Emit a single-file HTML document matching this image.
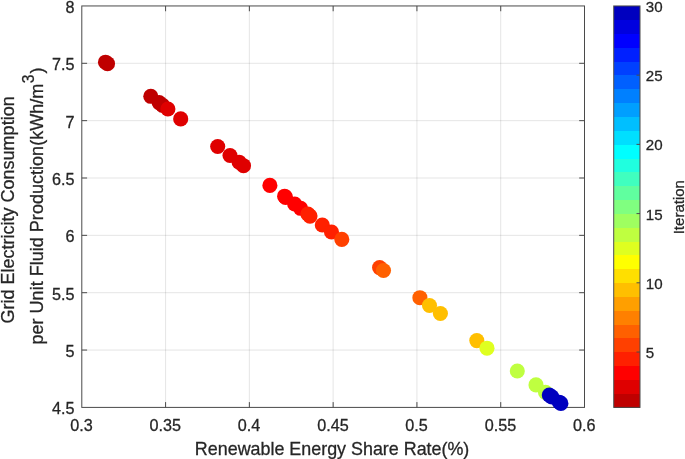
<!DOCTYPE html>
<html lang="en"><head><meta charset="utf-8"><title>Pareto front</title>
<style>html,body{margin:0;padding:0;background:#fff}svg{display:block}text{font-family:"Liberation Sans",Arial,Helvetica,sans-serif;fill:#262626;stroke:#262626;stroke-width:0.28px}</style></head><body>
<svg width="685" height="459" viewBox="0 0 685 459">
<rect width="685" height="459" fill="#fff"/>
<g stroke="#262626" stroke-opacity="0.12" stroke-width="1">
<line x1="165.58" y1="5.95" x2="165.58" y2="407.40"/>
<line x1="249.37" y1="5.95" x2="249.37" y2="407.40"/>
<line x1="333.15" y1="5.95" x2="333.15" y2="407.40"/>
<line x1="416.93" y1="5.95" x2="416.93" y2="407.40"/>
<line x1="500.72" y1="5.95" x2="500.72" y2="407.40"/>
<line x1="81.80" y1="350.05" x2="584.50" y2="350.05"/>
<line x1="81.80" y1="292.70" x2="584.50" y2="292.70"/>
<line x1="81.80" y1="235.35" x2="584.50" y2="235.35"/>
<line x1="81.80" y1="178.00" x2="584.50" y2="178.00"/>
<line x1="81.80" y1="120.65" x2="584.50" y2="120.65"/>
<line x1="81.80" y1="63.30" x2="584.50" y2="63.30"/>
</g>
<g stroke="#4a4a4a" stroke-width="1" fill="none">
<rect x="81.80" y="5.95" width="502.70" height="401.45"/>
<line x1="165.58" y1="407.40" x2="165.58" y2="402.10"/>
<line x1="165.58" y1="5.95" x2="165.58" y2="11.25"/>
<line x1="249.37" y1="407.40" x2="249.37" y2="402.10"/>
<line x1="249.37" y1="5.95" x2="249.37" y2="11.25"/>
<line x1="333.15" y1="407.40" x2="333.15" y2="402.10"/>
<line x1="333.15" y1="5.95" x2="333.15" y2="11.25"/>
<line x1="416.93" y1="407.40" x2="416.93" y2="402.10"/>
<line x1="416.93" y1="5.95" x2="416.93" y2="11.25"/>
<line x1="500.72" y1="407.40" x2="500.72" y2="402.10"/>
<line x1="500.72" y1="5.95" x2="500.72" y2="11.25"/>
<line x1="81.80" y1="350.05" x2="87.10" y2="350.05"/>
<line x1="584.50" y1="350.05" x2="579.20" y2="350.05"/>
<line x1="81.80" y1="292.70" x2="87.10" y2="292.70"/>
<line x1="584.50" y1="292.70" x2="579.20" y2="292.70"/>
<line x1="81.80" y1="235.35" x2="87.10" y2="235.35"/>
<line x1="584.50" y1="235.35" x2="579.20" y2="235.35"/>
<line x1="81.80" y1="178.00" x2="87.10" y2="178.00"/>
<line x1="584.50" y1="178.00" x2="579.20" y2="178.00"/>
<line x1="81.80" y1="120.65" x2="87.10" y2="120.65"/>
<line x1="584.50" y1="120.65" x2="579.20" y2="120.65"/>
<line x1="81.80" y1="63.30" x2="87.10" y2="63.30"/>
<line x1="584.50" y1="63.30" x2="579.20" y2="63.30"/>
</g>
<g>
<circle cx="105.5" cy="62.2" r="7.55" fill="#bf0000"/>
<circle cx="107.5" cy="63.7" r="7.55" fill="#bf0000"/>
<circle cx="150.8" cy="96.3" r="7.55" fill="#bf0000"/>
<circle cx="159.1" cy="102.6" r="7.55" fill="#bf0000"/>
<circle cx="162.6" cy="105.3" r="7.55" fill="#bf0000"/>
<circle cx="167.9" cy="109.0" r="7.55" fill="#df0000"/>
<circle cx="180.7" cy="118.9" r="7.55" fill="#df0000"/>
<circle cx="217.7" cy="146.5" r="7.55" fill="#df0000"/>
<circle cx="230.0" cy="155.5" r="7.55" fill="#df0000"/>
<circle cx="239.1" cy="162.2" r="7.55" fill="#df0000"/>
<circle cx="243.5" cy="165.7" r="7.55" fill="#df0000"/>
<circle cx="269.9" cy="185.4" r="7.55" fill="#ff0000"/>
<circle cx="284.6" cy="196.2" r="7.55" fill="#ff0000"/>
<circle cx="285.6" cy="197.4" r="7.55" fill="#ff0000"/>
<circle cx="294.7" cy="204.0" r="7.55" fill="#ff0000"/>
<circle cx="300.6" cy="208.3" r="7.55" fill="#ff0000"/>
<circle cx="307.9" cy="214.0" r="7.55" fill="#ff2000"/>
<circle cx="310.0" cy="216.1" r="7.55" fill="#ff2000"/>
<circle cx="322.3" cy="225.0" r="7.55" fill="#ff2000"/>
<circle cx="331.5" cy="232.0" r="7.55" fill="#ff2000"/>
<circle cx="341.8" cy="239.4" r="7.55" fill="#ff4000"/>
<circle cx="379.6" cy="267.6" r="7.55" fill="#ff4000"/>
<circle cx="383.5" cy="270.5" r="7.55" fill="#ff6000"/>
<circle cx="419.9" cy="297.7" r="7.55" fill="#ff6000"/>
<circle cx="429.5" cy="305.5" r="7.55" fill="#ffbf00"/>
<circle cx="440.4" cy="313.5" r="7.55" fill="#ffbf00"/>
<circle cx="476.8" cy="340.6" r="7.55" fill="#ffbf00"/>
<circle cx="487.0" cy="348.2" r="7.55" fill="#dfff20"/>
<circle cx="517.3" cy="371.0" r="7.55" fill="#bfff40"/>
<circle cx="536.0" cy="384.9" r="7.55" fill="#bfff40"/>
<circle cx="545.5" cy="392.4" r="7.55" fill="#bfff40"/>
<circle cx="549.3" cy="395.1" r="7.55" fill="#0000bf"/>
<circle cx="551.8" cy="396.9" r="7.55" fill="#0000bf"/>
<circle cx="559.3" cy="402.2" r="7.55" fill="#0000bf"/>
<circle cx="560.9" cy="403.4" r="7.55" fill="#0000bf"/>
</g>
<g font-size="16.2" text-anchor="middle">
<text transform="translate(81.5,430.5) scale(1.0000,1)">0.3</text>
<text transform="translate(165.3,430.5) scale(1.0000,1)">0.35</text>
<text transform="translate(249.1,430.5) scale(1.0000,1)">0.4</text>
<text transform="translate(332.9,430.5) scale(1.0000,1)">0.45</text>
<text transform="translate(416.6,430.5) scale(1.0000,1)">0.5</text>
<text transform="translate(500.4,430.5) scale(1.0000,1)">0.55</text>
<text transform="translate(584.2,430.5) scale(1.0000,1)">0.6</text>
</g>
<g font-size="16.2" text-anchor="end">
<text transform="translate(74.6,414.4) scale(1.0000,1)">4.5</text>
<text transform="translate(74.6,357.0) scale(1.0000,1)">5</text>
<text transform="translate(74.6,299.7) scale(1.0000,1)">5.5</text>
<text transform="translate(74.6,242.3) scale(1.0000,1)">6</text>
<text transform="translate(74.6,185.0) scale(1.0000,1)">6.5</text>
<text transform="translate(74.6,127.7) scale(1.0000,1)">7</text>
<text transform="translate(74.6,70.3) scale(1.0000,1)">7.5</text>
<text transform="translate(74.6,12.9) scale(1.0000,1)">8</text>
</g>
<text transform="translate(332.1,455.3) scale(1.0000,1)" font-size="17.9" text-anchor="middle">Renewable Energy Share Rate(%)</text>
<text transform="translate(14.2,209.9) rotate(-90) scale(1.0040,1)" font-size="17.95" text-anchor="middle">Grid Electricity Consumption</text>
<text transform="translate(42.6,206.0) rotate(-90) scale(1.0060,1)" font-size="17.95" text-anchor="middle">per Unit Fluid Production(kWh/m<tspan font-size="15.6" dy="-8.5" dx="0.5">3</tspan><tspan dy="8.5" dx="1">)</tspan></text>
<g shape-rendering="crispEdges">
<rect x="613.70" y="393.56" width="26.30" height="14.14" fill="#bf0000"/>
<rect x="613.70" y="379.71" width="26.30" height="14.14" fill="#df0000"/>
<rect x="613.70" y="365.87" width="26.30" height="14.14" fill="#ff0000"/>
<rect x="613.70" y="352.03" width="26.30" height="14.14" fill="#ff2000"/>
<rect x="613.70" y="338.18" width="26.30" height="14.14" fill="#ff4000"/>
<rect x="613.70" y="324.34" width="26.30" height="14.14" fill="#ff6000"/>
<rect x="613.70" y="310.50" width="26.30" height="14.14" fill="#ff8000"/>
<rect x="613.70" y="296.66" width="26.30" height="14.14" fill="#ff9f00"/>
<rect x="613.70" y="282.81" width="26.30" height="14.14" fill="#ffbf00"/>
<rect x="613.70" y="268.97" width="26.30" height="14.14" fill="#ffdf00"/>
<rect x="613.70" y="255.13" width="26.30" height="14.14" fill="#ffff00"/>
<rect x="613.70" y="241.28" width="26.30" height="14.14" fill="#dfff20"/>
<rect x="613.70" y="227.44" width="26.30" height="14.14" fill="#bfff40"/>
<rect x="613.70" y="213.60" width="26.30" height="14.14" fill="#9fff60"/>
<rect x="613.70" y="199.75" width="26.30" height="14.14" fill="#80ff80"/>
<rect x="613.70" y="185.91" width="26.30" height="14.14" fill="#60ff9f"/>
<rect x="613.70" y="172.07" width="26.30" height="14.14" fill="#40ffbf"/>
<rect x="613.70" y="158.22" width="26.30" height="14.14" fill="#20ffdf"/>
<rect x="613.70" y="144.38" width="26.30" height="14.14" fill="#00ffff"/>
<rect x="613.70" y="130.54" width="26.30" height="14.14" fill="#00dfff"/>
<rect x="613.70" y="116.69" width="26.30" height="14.14" fill="#00bfff"/>
<rect x="613.70" y="102.85" width="26.30" height="14.14" fill="#009fff"/>
<rect x="613.70" y="89.01" width="26.30" height="14.14" fill="#0080ff"/>
<rect x="613.70" y="75.17" width="26.30" height="14.14" fill="#0060ff"/>
<rect x="613.70" y="61.32" width="26.30" height="14.14" fill="#0040ff"/>
<rect x="613.70" y="47.48" width="26.30" height="14.14" fill="#0020ff"/>
<rect x="613.70" y="33.64" width="26.30" height="14.14" fill="#0000ff"/>
<rect x="613.70" y="19.79" width="26.30" height="14.14" fill="#0000df"/>
<rect x="613.70" y="5.95" width="26.30" height="14.14" fill="#0000bf"/>
</g>
<g stroke="#4a4a4a" stroke-width="1" fill="none">
<rect x="613.70" y="5.95" width="26.30" height="401.45"/>
<line x1="640.00" y1="352.03" x2="636.50" y2="352.03"/>
<line x1="640.00" y1="282.81" x2="636.50" y2="282.81"/>
<line x1="640.00" y1="213.60" x2="636.50" y2="213.60"/>
<line x1="640.00" y1="144.38" x2="636.50" y2="144.38"/>
<line x1="640.00" y1="75.17" x2="636.50" y2="75.17"/>
</g>
<g font-size="15.1">
<text transform="translate(645.8,357.9) scale(1.0000,1)">5</text>
<text transform="translate(645.8,288.7) scale(1.0000,1)">10</text>
<text transform="translate(645.8,219.5) scale(1.0000,1)">15</text>
<text transform="translate(645.8,150.3) scale(1.0000,1)">20</text>
<text transform="translate(645.8,81.1) scale(1.0000,1)">25</text>
<text transform="translate(645.8,11.8) scale(1.0000,1)">30</text>
</g>
<text transform="translate(684,207.2) rotate(-90) scale(1.0000,1)" font-size="15.0" text-anchor="middle">Iteration</text>
</svg></body></html>
